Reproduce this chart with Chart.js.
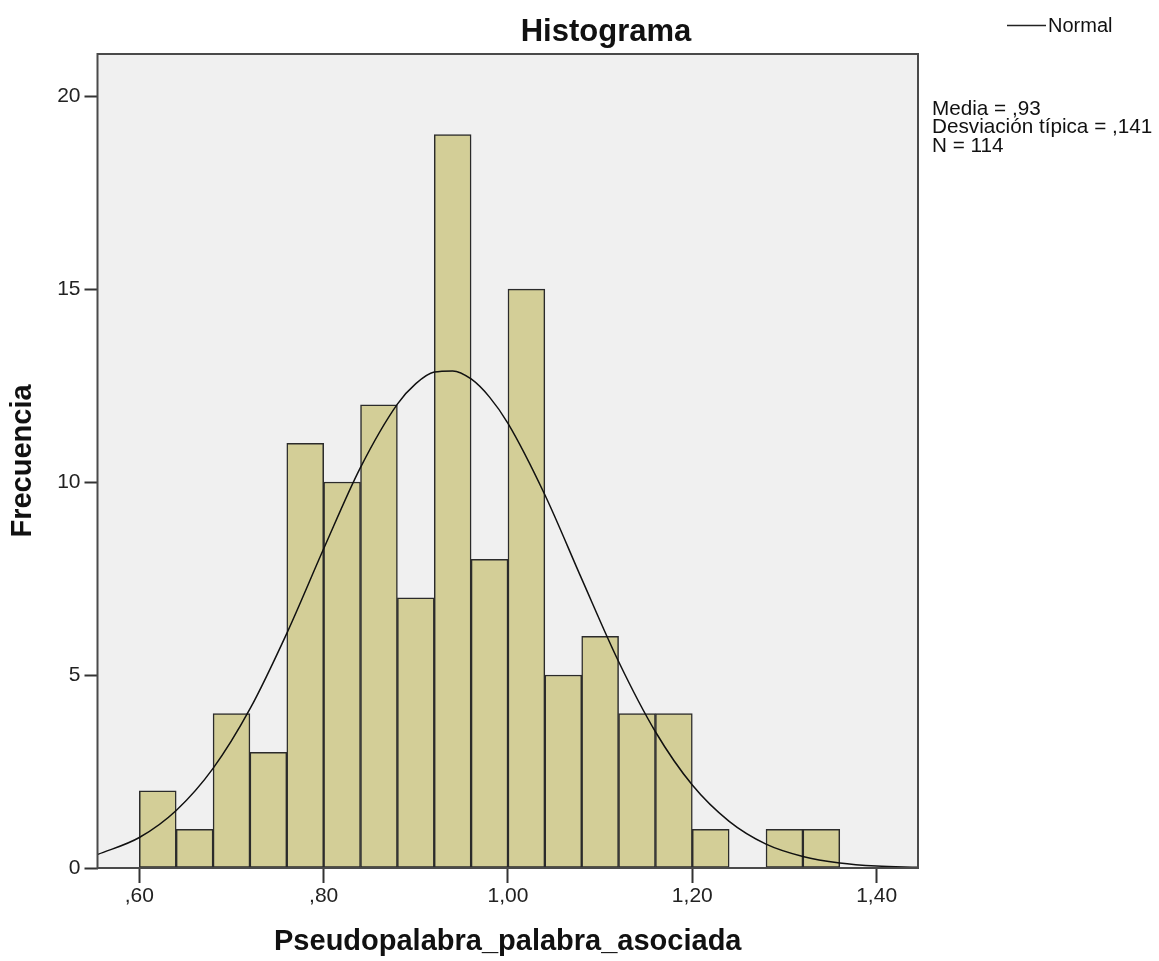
<!DOCTYPE html>
<html>
<head>
<meta charset="utf-8">
<title>Histograma</title>
<script src="https://cdn.jsdelivr.net/npm/chart.js@4.4.1/dist/chart.umd.min.js"></script>
<style>
  html, body { margin: 0; padding: 0; background: #fff; }
  #wrap { width: 1159px; height: 961px; }
</style>
</head>
<body>
<div id="wrap"><canvas id="histChart" width="1159" height="961"></canvas></div>
<script>
const FONT = '"Liberation Sans", Arial, Helvetica, sans-serif';

// histogram bins (lower edge) and frequencies
const binStarts = [0.60, 0.64, 0.68, 0.72, 0.76, 0.80, 0.84, 0.88, 0.92, 0.96,
                   1.00, 1.04, 1.08, 1.12, 1.16, 1.20, 1.24, 1.28, 1.32];
const counts = [2, 1, 4, 3, 11, 10, 12, 7, 19, 8, 15, 5, 6, 4, 4, 1, 0, 1, 1];
const binWidth = 0.04;

// normal curve
const curveX = [0.5546, 0.60, 0.64, 0.68, 0.72, 0.76, 0.80, 0.84, 0.88, 0.90, 0.92, 0.94,
                0.96, 0.98, 1.00, 1.04, 1.08, 1.12, 1.16, 1.20, 1.24, 1.28, 1.32, 1.36,
                1.40, 1.4449];
const curveY = [0.35, 0.79, 1.49, 2.58, 4.12, 6.08, 8.27, 10.38, 12.02, 12.55, 12.85, 12.88,
                12.67, 12.20, 11.52, 9.67, 7.49, 5.35, 3.53, 2.15, 1.21, 0.62, 0.30, 0.13,
                0.05, 0.02];

const xTicks = [0.6, 0.8, 1.0, 1.2, 1.4];
const xTickLabels = [",60", ",80", "1,00", "1,20", "1,40"];
const yTicks = [0, 5, 10, 15, 20];
const statLines = ["Media = ,93", "Desviación típica = ,141", "N = 114"];

const decorations = {
  id: "decorations",
  beforeDraw(chart) {
    const { ctx, chartArea: a } = chart;
    ctx.save();
    ctx.fillStyle = "#f0f0f0";
    ctx.fillRect(a.left, a.top, a.right - a.left, a.bottom - a.top);
    ctx.restore();
  },
  afterDraw(chart) {
    const { ctx, chartArea: a } = chart;
    ctx.save();
    // frame
    ctx.strokeStyle = "#4a4a4a";
    ctx.lineWidth = 2;
    ctx.strokeRect(a.left, a.top, a.right - a.left, a.bottom - a.top);

    // title
    ctx.fillStyle = "#111";
    ctx.textAlign = "center";
    ctx.textBaseline = "alphabetic";
    ctx.font = "bold 31px " + FONT;
    ctx.fillText("Histograma", 606, 41);

    // legend
    ctx.strokeStyle = "#222";
    ctx.lineWidth = 1.5;
    ctx.beginPath();
    ctx.moveTo(1007, 25.5);
    ctx.lineTo(1046, 25.5);
    ctx.stroke();
    ctx.textAlign = "left";
    ctx.font = "20px " + FONT;
    ctx.fillText("Normal", 1048, 32);

    // stats
    ctx.font = "20.7px " + FONT;
    statLines.forEach((t, i) => ctx.fillText(t, 932, 115 + i * 18.4));
    ctx.restore();
  }
};

const ctx = document.getElementById("histChart").getContext("2d");
new Chart(ctx, {
  type: "bar",
  data: {
    datasets: [
      {
        type: "line",
        label: "Normal",
        data: curveX.map((x, i) => ({ x, y: curveY[i] })),
        borderColor: "#111",
        borderWidth: 1.5,
        pointRadius: 0,
        fill: false,
        cubicInterpolationMode: "monotone",
        order: 1,
      },
      {
        type: "bar",
        label: "Frecuencia",
        data: binStarts.map((b, i) => ({ x: b + binWidth / 2, y: counts[i] })),
        backgroundColor: "#d3ce97",
        borderColor: "#2b2b2b",
        borderWidth: 1.5,
        borderSkipped: false,
        barPercentage: 1,
        categoryPercentage: 1,
        order: 2,
      },
    ],
  },
  options: {
    responsive: false,
    animation: false,
    devicePixelRatio: 1,
    layout: { padding: { top: 54, right: 241, bottom: 0, left: 0 } },
    plugins: {
      legend: { display: false },
      tooltip: { enabled: false },
      title: { display: false },
    },
    scales: {
      x: {
        type: "linear",
        offset: false,
        min: 0.5546,
        max: 1.4449,
        afterBuildTicks: (s) => { s.ticks = xTicks.map((v) => ({ value: v })); },
        afterFit: (s) => { s.height = 93; },
        border: { display: false },
        grid: { offset: false, drawOnChartArea: false, drawTicks: true, tickLength: 15, tickWidth: 2, tickColor: "#333" },
        ticks: {
          padding: 1,
          color: "#222",
          maxRotation: 0,
          autoSkip: false,
          font: { family: FONT, size: 21 },
          callback: (v, i) => xTickLabels[i],
        },
        title: {
          display: true,
          text: "Pseudopalabra_palabra_asociada",
          color: "#111",
          font: { family: FONT, size: 29, weight: "bold" },
          padding: { top: 0, bottom: 2 },
        },
      },
      y: {
        min: 0,
        max: 21.09,
        afterBuildTicks: (s) => { s.ticks = yTicks.map((v) => ({ value: v })); },
        afterFit: (s) => { s.width = 97.5; },
        border: { display: false },
        grid: { drawOnChartArea: false, drawTicks: true, tickLength: 13, tickWidth: 2, tickColor: "#333" },
        ticks: {
          padding: 4,
          color: "#222",
          font: { family: FONT, size: 21 },
        },
        title: {
          display: true,
          text: "Frecuencia",
          color: "#111",
          font: { family: FONT, size: 29, weight: "bold" },
          padding: { top: 6, bottom: 0 },
        },
      },
    },
  },
  plugins: [decorations],
});
</script>
</body>
</html>
